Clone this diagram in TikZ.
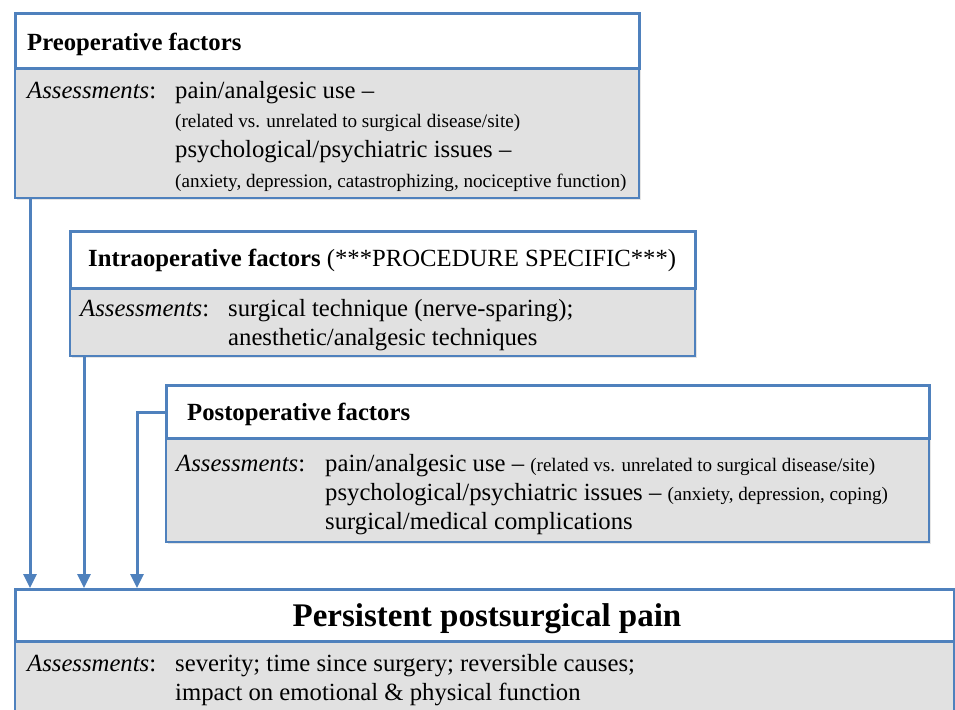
\documentclass[tikz,border=0pt]{standalone}
\usepackage{fontspec}
\setmainfont{Liberation Serif}
\usetikzlibrary{arrows.meta,shadows}

\definecolor{boxblue}{RGB}{79,129,189}
\definecolor{boxgray}{RGB}{225,225,225}

\newcommand{\mainsz}{\fontsize{24.7}{29}\selectfont}
\newcommand{\smallsz}{\fontsize{19.1}{23}\selectfont}
\newcommand{\assess}{\textit{Assessments}:}

\begin{document}
\begin{tikzpicture}[x=1pt,y=-1pt,>/.tip={Triangle[length=14pt,width=13pt]},
  head/.style={draw=boxblue,line width=3pt,fill=white,anchor=north west,inner sep=0pt,
    drop shadow={opacity=0.2,shadow xshift=1.5pt,shadow yshift=-1.5pt}},
  body/.style={draw=boxblue,line width=2pt,fill=boxgray,anchor=north west,inner sep=0pt,
    drop shadow={opacity=0.2,shadow xshift=1.5pt,shadow yshift=-1.5pt}},
  txt/.style={anchor=base west,inner sep=0pt,font=\mainsz},
  sml/.style={anchor=base west,inner sep=0pt,font=\smallsz},
  arr/.style={->,draw=boxblue,line width=3pt}]
\useasboundingbox[fill=white] (0,0) rectangle (955,709);

% preoperative
\node[body,minimum width=624,minimum height=130] (prebody) at (14,67) {};
\node[head,minimum width=624,minimum height=55] (prehead) at (14,12) {};
\node[txt,font=\mainsz\bfseries] (pretitle) at (27,51) {Preoperative factors};
\node[txt] (preass) at (27,98) {\assess};
\node[txt] (pre1) at (175,98) {pain/analgesic use --};
\node[sml] (pre2) at (175,127) {(related vs. unrelated to surgical disease/site)};
\node[txt] (pre3) at (175,157) {psychological/psychiatric issues --};
\node[sml] (pre4) at (175,187) {(anxiety, depression, catastrophizing, nociceptive function)};

% intraoperative
\node[body,minimum width=625,minimum height=68] (intrabody) at (69,287) {};
\node[head,minimum width=625,minimum height=57] (intrahead) at (69,230) {};
\node[txt] (intratitle) at (88,266) {\textbf{Intraoperative factors} (***PROCEDURE SPECIFIC***)};
\node[txt] (intraass) at (80,316) {\assess};
\node[txt] (intra1) at (228,316) {surgical technique (nerve-sparing);};
\node[txt] (intra2) at (228,345) {anesthetic/analgesic techniques};

% postoperative
\node[body,minimum width=763,minimum height=104] (postbody) at (165,437) {};
\node[head,minimum width=763,minimum height=53] (posthead) at (165,384) {};
\node[txt,font=\mainsz\bfseries] (posttitle) at (187,420) {Postoperative factors};
\node[txt] (postass) at (176,471) {\assess};
\node[txt] (post1) at (325,471) {pain/analgesic use -- {\smallsz(related vs. unrelated to surgical disease/site)}};
\node[txt] (post2) at (325,500) {psychological/psychiatric issues -- {\smallsz(anxiety, depression, coping)}};
\node[txt] (post3) at (325,529) {surgical/medical complications};

% persistent postsurgical pain
\node[body,minimum width=939,minimum height=80] (pppbody) at (14,640) {};
\node[head,minimum width=939,minimum height=52] (ppphead) at (14,588) {};
\node[anchor=base,inner sep=0pt,font=\fontsize{33}{40}\selectfont\bfseries] (ppptitle) at (487,626) {Persistent postsurgical pain};
\node[txt] (pppass) at (27,671) {\assess};
\node[txt] (ppp1) at (175,671) {severity; time since surgery; reversible causes;};
\node[txt] (ppp2) at (175,700) {impact on emotional \& physical function};

% arrows
\draw[arr] ([xshift=16]prebody.south west) -- ([xshift=16]ppphead.north west);
\draw[arr] ([xshift=15]intrabody.south west) -- ([xshift=70]ppphead.north west);
\draw[arr] (posthead.west) -| ([xshift=123]ppphead.north west);

\end{tikzpicture}
\end{document}
